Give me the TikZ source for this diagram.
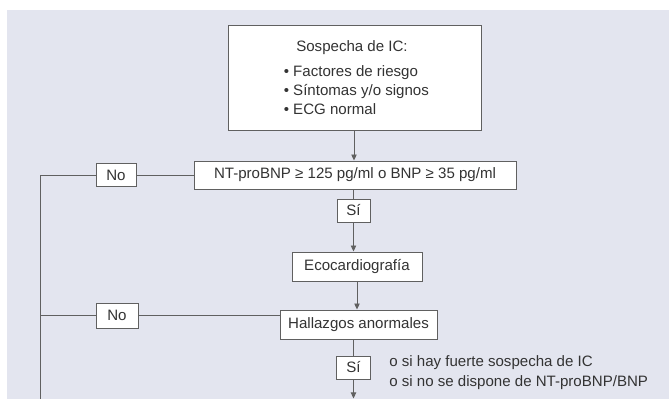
\documentclass[tikz,border=0pt]{standalone}
\usepackage{fontspec}
\setmainfont{Liberation Sans}
\usetikzlibrary{arrows.meta}
\definecolor{bg}{HTML}{E3E5EF}
\definecolor{ln}{HTML}{606060}
\definecolor{tx}{HTML}{333333}
\begin{document}
\begin{tikzpicture}[x=0.75pt,y=-0.75pt,
  txt/.style={text=tx, font=\fontsize{11.3}{13.5}\selectfont, inner sep=0pt},
  box/.style={txt, draw=ln, line width=0.7pt, fill=white, align=center},
  conn/.style={draw=ln, line width=0.7pt},
  arr/.style={conn, -{Triangle[length=4.5pt,width=4pt]}},
]
\useasboundingbox (0,0) rectangle (669,399);
\fill[white] (0,0) rectangle (669,399);
\fill[bg] (7,10) rectangle (669,399);

% nodes
\node[box, minimum width=189.75pt, minimum height=78.75pt] (top) at (354.5,77.5) {};
\node[txt, anchor=base] (title) at (352,52) {Sospecha de IC:};
\node[txt, anchor=base west] (b1) at (283.5,77) {• Factores de riesgo};
\node[txt, anchor=base west] (b2) at (283.5,96) {• Síntomas y/o signos};
\node[txt, anchor=base west] (b3) at (283.5,115) {• ECG normal};

\node[box, minimum width=241.5pt, minimum height=21pt] (nt) at (355,175) {NT-proBNP ≥ 125 pg/ml o BNP ≥ 35 pg/ml};
\node[box, minimum width=30pt, minimum height=17.25pt] (no1) at (116,175) {No};
\node[box, minimum width=24.75pt, minimum height=17.25pt] (si1) at (353.5,210.5) {Sí};
\node[box, minimum width=97.5pt, minimum height=21.75pt] (eco) at (357,266.5) {Ecocardiografía};
\node[box, minimum width=117.75pt, minimum height=21.75pt] (hall) at (358.5,324.5) {Hallazgos anormales};
\node[box, minimum width=31.5pt, minimum height=18.75pt] (no2) at (117,315.5) {No};
\node[box, minimum width=25.5pt, minimum height=17.25pt] (si2) at (353.5,367.5) {Sí};
\node[txt, anchor=west] (n1) at (389,363) {o si hay fuerte sospecha de IC};
\node[txt, anchor=west] (n2) at (389,383) {o si no se dispone de NT-proBNP/BNP};

\coordinate (xa) at (354,0);
\coordinate (L1) at (40,175);
\coordinate (L2) at (40,399);
\coordinate (down) at (353.5,398.5);

% connectors
\draw[arr] (top.south -| xa) -- (nt.north -| xa);
\draw[conn] (nt.south -| si1) -- (si1.north);
\draw[arr] (si1.south) -- (eco.north -| si1);
\draw[arr] (eco.south) -- (hall.north -| eco);
\draw[conn] (hall.south -| si2) -- (si2.north);
\draw[arr] (si2.south) -- (down);
\draw[conn] (nt.west) -- (no1.east);
\draw[conn] (no1.west) -- (L1) -- (L2);
\draw[conn] (no2.east) -- (no2.east -| hall.west);
\draw[conn] (no2.west) -- (no2.west -| L1);
\end{tikzpicture}
\end{document}
